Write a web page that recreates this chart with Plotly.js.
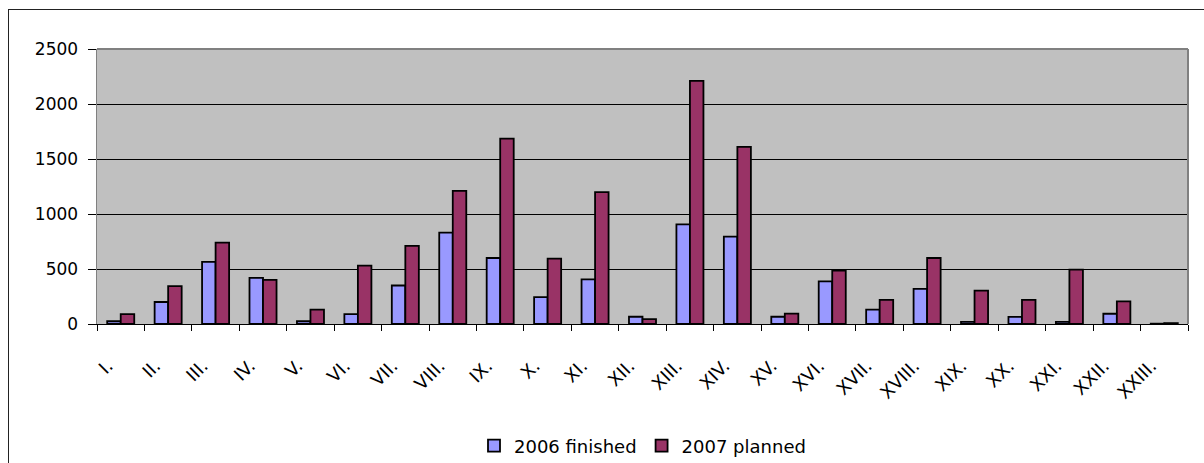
<!DOCTYPE html>
<html>
<head>
<meta charset="utf-8">
<script src="https://cdn.plot.ly/plotly-3.0.1.min.js"></script>
<style>
  html, body { margin: 0; padding: 0; background: #fff; }
  #wrap { position: relative; width: 1204px; height: 463px; overflow: hidden; }
  #frame { position: absolute; left: 8px; top: 9px; width: 1300px; height: 600px;
           border-left: 1.5px solid #222; border-top: 1.5px solid #222; pointer-events: none; }
  #chart { position: absolute; left: 0; top: 0; width: 1204px; height: 463px; }
</style>
</head>
<body>
<div id="wrap">
  <div id="chart"></div>
  <div id="frame"></div>
</div>
<script>
// Regions (Roman numerals) and the two yearly series
const regions = ["I.", "II.", "III.", "IV.", "V.", "VI.", "VII.", "VIII.", "IX.", "X.", "XI.", "XII.",
                 "XIII.", "XIV.", "XV.", "XVI.", "XVII.", "XVIII.", "XIX.", "XX.", "XXI.", "XXII.", "XXIII."];
const finished2006 = [25, 200, 565, 420, 25, 90, 350, 830, 600, 245, 405, 66,
                      905, 795, 66, 387, 130, 320, 20, 65, 20, 93, 3];
const planned2007 = [90, 345, 740, 402, 130, 530, 710, 1210, 1685, 595, 1199, 45,
                     2210, 1610, 95, 486, 220, 600, 304, 220, 495, 205, 8];
const seriesNames = ["2006 finished", "2007 planned"];
const yTicks = [0, 500, 1000, 1500, 2000, 2500];

const font = "DejaVu Sans, Liberation Sans, Arial, sans-serif";

const traces = [
  {
    type: "bar", name: seriesNames[0], x: regions, y: finished2006,
    marker: { color: "#9999FF", line: { color: "#000000", width: 1.8 } }
  },
  {
    type: "bar", name: seriesNames[1], x: regions, y: planned2007,
    marker: { color: "#993366", line: { color: "#000000", width: 1.8 } }
  }
];

const layout = {
  width: 1204, height: 463,
  margin: { l: 97, r: 16, t: 49, b: 139, pad: 0 },
  paper_bgcolor: "#ffffff",
  plot_bgcolor: "#C0C0C0",
  barmode: "group",
  bargap: 0.43,
  bargroupgap: 0,
  showlegend: true,
  font: { family: font, color: "#000000", size: 17 },
  xaxis: {
    type: "category",
    automargin: false,
    tickangle: -45,
    ticks: "outside", tickson: "boundaries", ticklen: 6, tickwidth: 1, tickcolor: "#000",
    showline: true, linecolor: "#000", linewidth: 1.2,
    showgrid: false,
    ticklabelstandoff: 23,
    ticklabelshift: -13,
    tickfont: { family: font, size: 18, color: "#000" },
    fixedrange: true
  },
  yaxis: {
    automargin: false,
    range: [0, 2500],
    tickvals: yTicks,
    ticktext: yTicks.map(String),
    ticks: "outside", ticklen: 8, tickwidth: 1, tickcolor: "#000",
    showline: true, linecolor: "#808080", linewidth: 1.5,
    showgrid: true, gridcolor: "#000000", gridwidth: 1,
    zeroline: false,
    ticklabelstandoff: 6,
    tickfont: { family: font, size: 17, color: "#000" },
    fixedrange: true
  },
  legend: {
    orientation: "h",
    xref: "paper", x: 0.5, xanchor: "center",
    yref: "container", y: 0.037, yanchor: "middle",
    font: { family: font, size: 18, color: "#000" },
    itemwidth: 30,
    traceorder: "normal",
    bgcolor: "rgba(0,0,0,0)"
  },
  shapes: [
    // plot-area frame (top and right edges)
    { type: "line", xref: "paper", yref: "paper", x0: 0, x1: 1, y0: 1, y1: 1,
      line: { color: "#808080", width: 2 }, layer: "above" },
    { type: "line", xref: "paper", yref: "paper", x0: 1, x1: 1, y0: 0, y1: 1,
      line: { color: "#808080", width: 2 }, layer: "above" }
  ]
};

Plotly.newPlot("chart", traces, layout, { displayModeBar: false, staticPlot: true });
</script>
</body>
</html>
